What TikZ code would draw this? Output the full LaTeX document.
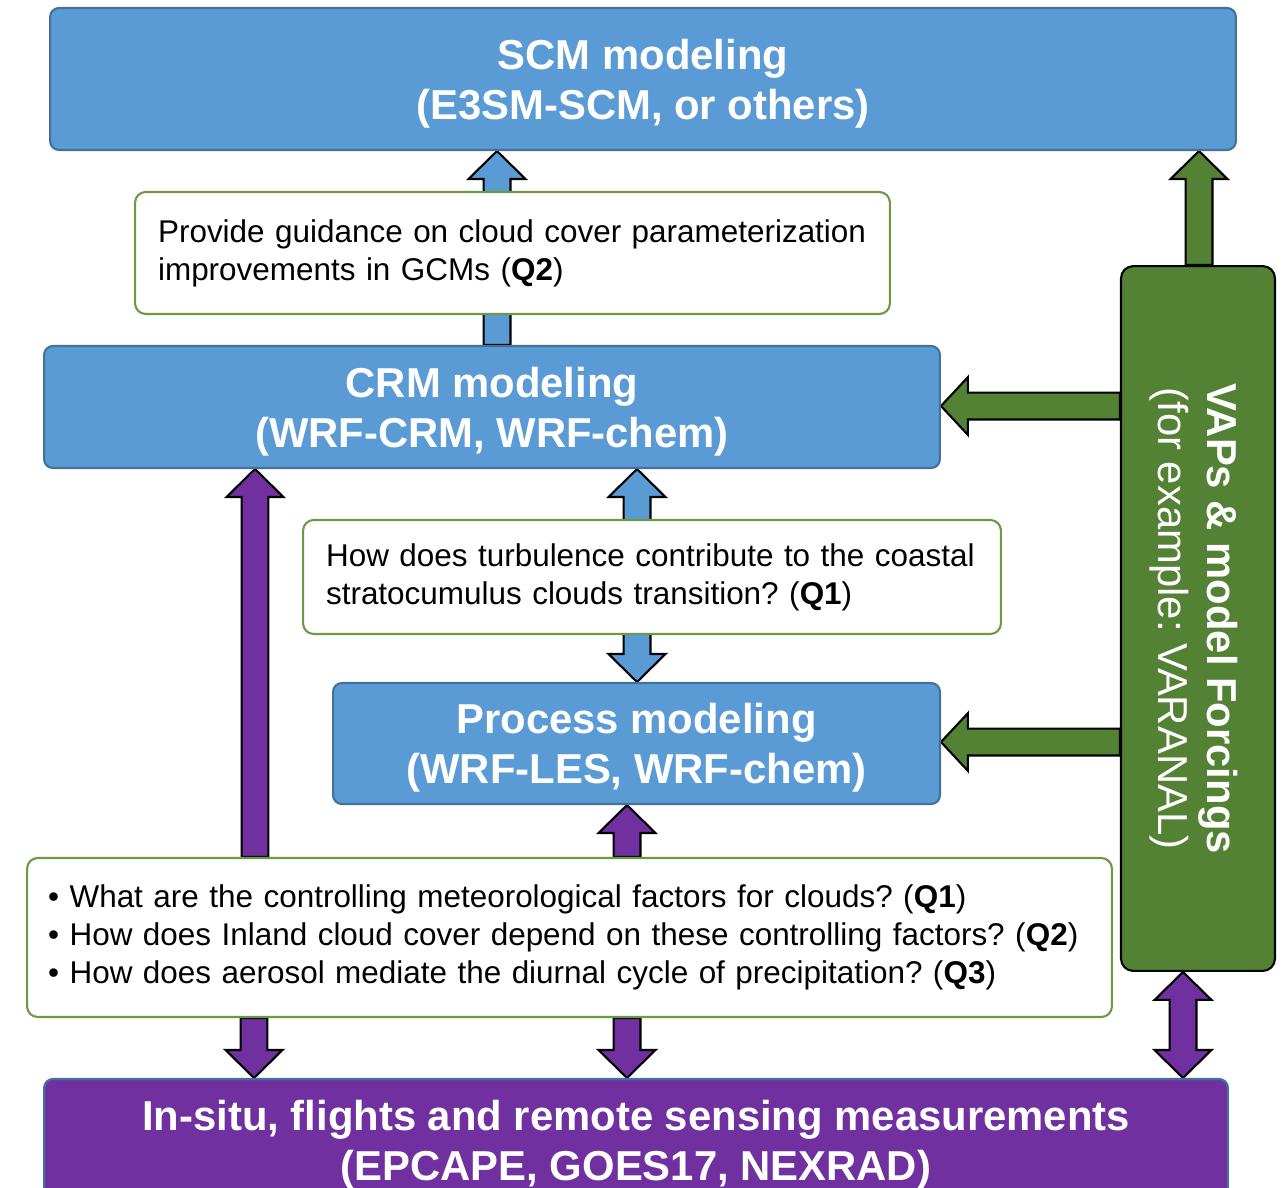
\documentclass[tikz,border=0pt]{standalone}
\usepackage{fontspec}
\setmainfont{Liberation Sans}
\usetikzlibrary{calc}
\frenchspacing

\pgfdeclarelayer{background}
\pgfsetlayers{background,main}

\definecolor{modelBlue}{HTML}{5B9BD5}
\definecolor{modelEdge}{HTML}{41719C}
\definecolor{forceGreen}{HTML}{548235}
\definecolor{questionGreen}{HTML}{6A9A45}
\definecolor{obsPurple}{HTML}{7030A0}

% block arrows: style, x (or y) of the shaft, tail anchor, tip anchor
\newcommand{\singleVArrow}[4]{%
  \path[#1] let \p0=(#2,0), \p1=(#3), \p2=(#4), \n1={15.9pt*sign(\y2-\y1)} in
    ({\x0-7.65pt},\y1) -- ({\x0-7.65pt},{\y2-(\n1)}) -- ({\x0-16.2pt},{\y2-(\n1)})
    -- (\x0,\y2) -- ({\x0+16.2pt},{\y2-(\n1)}) -- ({\x0+7.65pt},{\y2-(\n1)})
    -- ({\x0+7.65pt},\y1) -- cycle;}
\newcommand{\doubleVArrow}[4]{%
  \path[#1] let \p0=(#2,0), \p1=(#3), \p2=(#4), \n1={15.9pt*sign(\y2-\y1)} in
    (\x0,\y1) -- ({\x0+16.2pt},{\y1+(\n1)}) -- ({\x0+7.65pt},{\y1+(\n1)})
    -- ({\x0+7.65pt},{\y2-(\n1)}) -- ({\x0+16.2pt},{\y2-(\n1)}) -- (\x0,\y2)
    -- ({\x0-16.2pt},{\y2-(\n1)}) -- ({\x0-7.65pt},{\y2-(\n1)})
    -- ({\x0-7.65pt},{\y1+(\n1)}) -- ({\x0-16.2pt},{\y1+(\n1)}) -- cycle;}
\newcommand{\singleHArrow}[4]{%
  \path[#1] let \p0=(0,#2), \p1=(#3), \p2=(#4), \n1={15.3pt*sign(\x2-\x1)} in
    (\x1,{\y0-7.65pt}) -- ({\x2-(\n1)},{\y0-7.65pt}) -- ({\x2-(\n1)},{\y0-16.4pt})
    -- (\x2,\y0) -- ({\x2-(\n1)},{\y0+16.4pt}) -- ({\x2-(\n1)},{\y0+7.65pt})
    -- (\x1,{\y0+7.65pt}) -- cycle;}

\begin{document}
\begin{tikzpicture}[x=0.02cm, y=-0.02cm,
    modelBox/.style={draw=modelEdge, fill=modelBlue, line width=1.2pt, rounded corners=5pt,
      text=white, align=center, text depth=0pt, font=\fontsize{23.8}{28.3}\selectfont\bfseries},
    questionBox/.style={draw=questionGreen, fill=white, line width=1.2pt, rounded corners=6pt,
      align=left, inner ysep=0pt, font=\fontsize{17.9}{21.6}\selectfont},
    blockArrow/.style={draw=black, line width=1.2pt, fill=#1}]
    \useasboundingbox (0,0) rectangle (1285,1187);

    % Models
    \node[modelBox, minimum width=23.72cm, minimum height=2.84cm] (scm) at (643, 79)
        {SCM modeling\\(E3SM-SCM, or others)};
    \node[modelBox, minimum width=17.92cm, minimum height=2.44cm] (crm) at (492, 407)
        {CRM modeling\\(WRF-CRM, WRF-chem)};
    \node[modelBox, minimum width=12.14cm, minimum height=2.42cm] (les) at (636.5, 743.5)
        {Process modeling\\(WRF-LES, WRF-chem)};

    % Observations
    \node[modelBox, fill=obsPurple, minimum width=23.68cm, minimum height=2.44cm] (obs) at (636, 1140)
        {In-situ, flights and remote sensing measurements\\(EPCAPE, GOES17, NEXRAD)};

    % Forcings (rotated: west = top, south = left, east = bottom)
    \node[modelBox, draw=black, fill=forceGreen, rounded corners=7pt, rotate=-90,
        minimum width=14.1cm, minimum height=3.08cm] (vaps) at (1198, 618.5)
        {VAPs \& model Forcings\\\mdseries(for example: VARANAL)};

    % Questions
    \node[questionBox, minimum width=15.1cm, minimum height=2.44cm, inner xsep=0.46cm,
        text width=14.18cm] (q2box) at (512.5, 253)
        {\mbox{Provide guidance on cloud cover parameterization}\\improvements in GCMs (\textbf{Q2})};
    \node[questionBox, minimum width=13.96cm, minimum height=2.28cm, inner xsep=0.46cm,
        text width=13.04cm] (q1box) at (652, 577)
        {\mbox{How does turbulence contribute to the coastal}\\stratocumulus clouds transition? (\textbf{Q1})};
    \node[questionBox, minimum width=21.7cm, minimum height=3.18cm, inner xsep=0.42cm,
        text width=20.86cm] (qlist) at (569.5, 937.5)
        {\mbox{• What are the controlling meteorological factors for clouds? (\textbf{Q1})}\\
         \mbox{• How does Inland cloud cover depend on these controlling factors? (\textbf{Q2})}\\
         \mbox{• How does aerosol mediate the diurnal cycle of precipitation? (\textbf{Q3})}};

    % Arrows
    \begin{pgfonlayer}{background}
    \singleVArrow{blockArrow=modelBlue}{497}{crm.north}{scm.south}
    \doubleVArrow{blockArrow=modelBlue}{637}{crm.south}{les.north}

    \singleVArrow{blockArrow=forceGreen}{1199}{vaps.west}{scm.south}
    \singleHArrow{blockArrow=forceGreen}{406}{vaps.south}{crm.east}
    \singleHArrow{blockArrow=forceGreen}{742}{vaps.south}{les.east}

    \singleVArrow{blockArrow=obsPurple}{255}{qlist.north}{crm.south}
    \singleVArrow{blockArrow=obsPurple}{627}{qlist.north}{les.south}
    \singleVArrow{blockArrow=obsPurple}{254}{qlist.south}{obs.north}
    \singleVArrow{blockArrow=obsPurple}{627}{qlist.south}{obs.north}
    \doubleVArrow{blockArrow=obsPurple}{1183}{vaps.east}{obs.north}
    \end{pgfonlayer}
\end{tikzpicture}
\end{document}
